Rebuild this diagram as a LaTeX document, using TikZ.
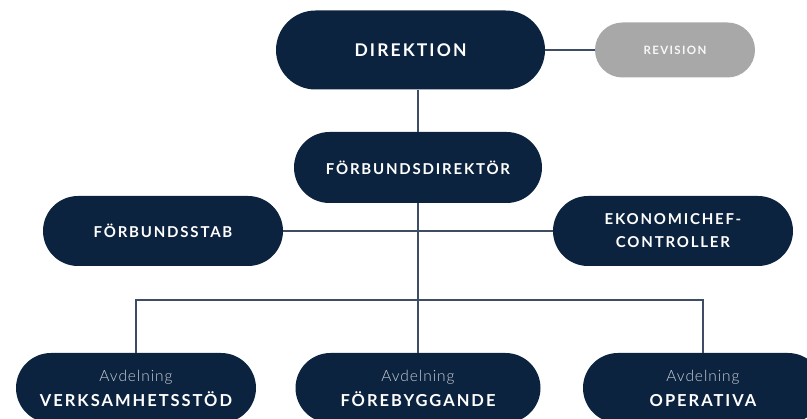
\documentclass[tikz,border=0pt]{standalone}
\usepackage{fontspec}
\setmainfont{Lato}
\newfontfamily\capsfont[LetterSpace=12]{Lato}
\newfontfamily\thinfont[LetterSpace=6]{Lato Light}
\usetikzlibrary{shapes.misc,positioning}

\definecolor{navy}{RGB}{12,35,64}
\definecolor{revgray}{RGB}{168,168,168}
\definecolor{linegray}{RGB}{62,76,100}

\newcommand{\avd}{{\thinfont\mdseries\color{white!78!navy}\fontsize{15.5}{17}\selectfont Avdelning}\\[6pt]}

\tikzset{
  org/.style={rounded rectangle, fill=navy, text=white, align=center,
    minimum width=240pt, minimum height=70pt, inner sep=0pt,
    font=\capsfont\bfseries\fontsize{15}{23}\selectfont},
  dept/.style={org, font=\capsfont\bfseries\fontsize{16.5}{19}\selectfont},
  conn/.style={draw=linegray, line width=1.6pt},
}

\begin{document}
\begin{tikzpicture}[x=1pt,y=-1pt]
\clip (0,0) rectangle (807,419);

% top level
\node[org, minimum width=269pt, minimum height=79pt,
  font=\capsfont\bfseries\fontsize{17.5}{20}\selectfont] (dir) at (410.5,50) {DIREKTION};
\node[org, fill=revgray, minimum width=160pt, minimum height=55pt,
  text=white!92!revgray, font=\capsfont\bfseries\fontsize{11.5}{13}\selectfont] (rev) at (675,50) {REVISION};

% director and staff
\node[org, minimum width=248pt, minimum height=71pt] (fd) at (418,167.5) {FÖRBUNDSDIREKTÖR};
\node[org] (stab) at (163,231) {FÖRBUNDSSTAB};
\node[org] (ekon) at (673,231) {EKONOMICHEF-\\CONTROLLER};

% departments
\node[dept] (vs) at (136,388) {\avd VERKSAMHETSSTÖD};
\node[dept, minimum width=245pt] (fb) at (418,388) {\avd FÖREBYGGANDE};
\node[dept] (op) at (703,388) {\avd OPERATIVA};

\coordinate (bus) at (418,300);

\draw[conn] (dir) -- (rev);
\draw[conn] (dir.south -| fd) -- (fd.north);
\draw[conn] (stab) -- (ekon);
\draw[conn] (fd.south) -- (fb.north);
\draw[conn] (vs.north) |- (bus) -| (op.north);
\end{tikzpicture}
\end{document}
